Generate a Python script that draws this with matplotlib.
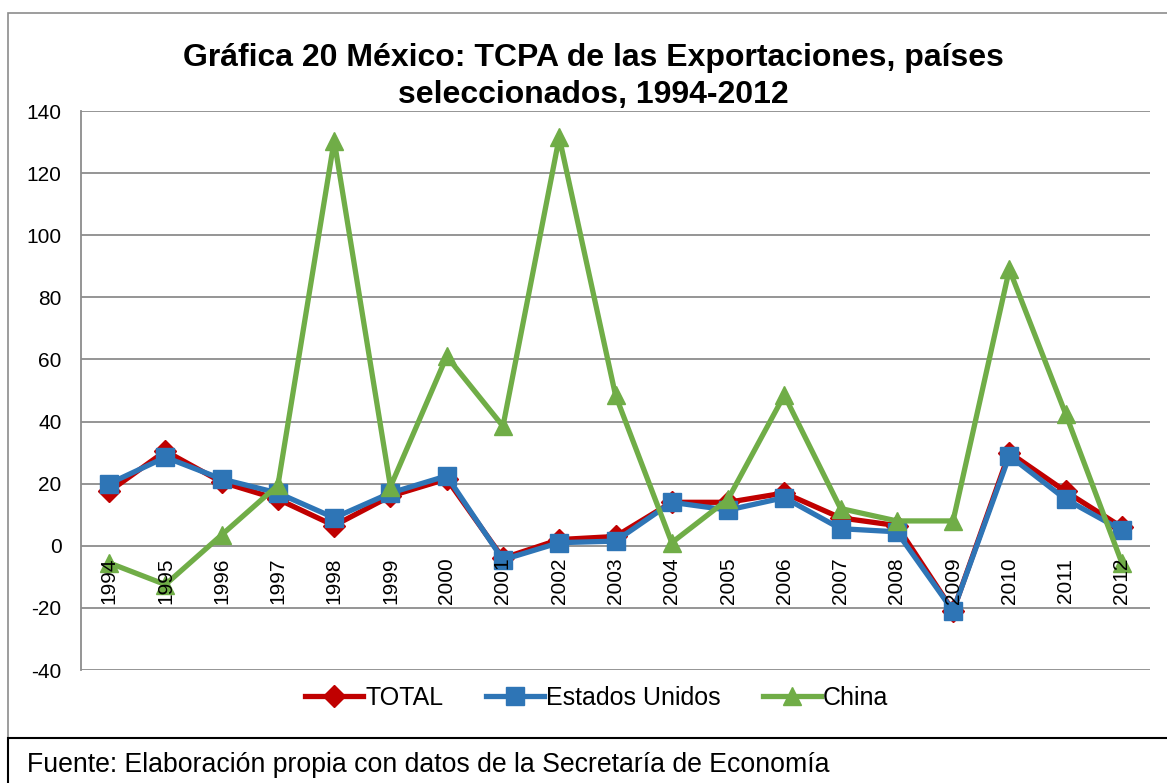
import matplotlib
matplotlib.use("Agg")
import matplotlib.pyplot as plt
from matplotlib.patches import Rectangle

plt.rcParams['font.family'] = ['Liberation Sans', 'DejaVu Sans']

# Datos (TCPA, %)
anios = ['1994', '1995', '1996', '1997', '1998', '1999', '2000', '2001', '2002', '2003',
         '2004', '2005', '2006', '2007', '2008', '2009', '2010', '2011', '2012']
total = [17.5, 30.5, 20.5, 15, 6.5, 16, 21.5, -4, 2, 3,
         14, 14, 17, 9, 6.5, -21, 30, 17.5, 6]
estados_unidos = [20, 28.5, 21.5, 17, 9, 17, 22.5, -4.5, 1, 1.5,
                  14, 11.5, 15.5, 5.5, 4.5, -21, 29, 15, 5]
china = [-5.5, -12.5, 3.5, 19.5, 130.5, 19, 61, 38.5, 131.5, 48.5,
         1, 15, 48.5, 12, 8, 8, 89, 42.5, -5.5]
yticks = [-40, -20, 0, 20, 40, 60, 80, 100, 120, 140]

W, H = 1167, 783
fig = plt.figure(figsize=(W / 100, H / 100), dpi=100)

# marcos exteriores
fig.patches.append(Rectangle((8 / W, 1 - 738 / H), 1.0, (738 - 13) / H, transform=fig.transFigure,
                             fill=False, edgecolor='#8c8c8c', linewidth=1.2))
fig.patches.append(Rectangle((8 / W, -0.05), 1.0, 0.05 + 1 - 738 / H, transform=fig.transFigure,
                             fill=False, edgecolor='black', linewidth=1.5))

ax = fig.add_axes([81 / W, 1 - 670 / H, (1150 - 81) / W, (670 - 111) / H])
x = range(len(anios))

ax.plot(x, total, color='#C00000', linewidth=3.8, marker='D', markersize=11, label='TOTAL', zorder=3)
ax.plot(x, estados_unidos, color='#2E75B6', linewidth=3.8, marker='s', markersize=13,
        label='Estados Unidos', zorder=4)
ax.plot(x, china, color='#70AD47', linewidth=3.8, marker='^', markersize=13, label='China', zorder=5)

ax.set_xlim(-0.5, len(anios) - 0.5)
ax.set_ylim(-40, 140)
ax.set_yticks(yticks)
ax.set_yticklabels([str(v) for v in yticks], fontsize=15)
ax.tick_params(axis='y', length=0, pad=14)
ax.set_xticks([])
ax.grid(axis='y', color='#8c8c8c', linewidth=1.3)
ax.set_axisbelow(True)
for s in ['top', 'right', 'bottom']:
    ax.spines[s].set_visible(False)
ax.spines['left'].set_color('#8c8c8c')
ax.spines['left'].set_linewidth(1.3)

# etiquetas de años junto al eje en 0
for i, a in enumerate(anios):
    ax.text(i, -3.8, a, rotation=90, ha='center', va='top', fontsize=15, zorder=6)

fig.text(593 / W, 1 - 76.5 / H, 'Gráfica 20 México: TCPA de las Exportaciones, países\nseleccionados, 1994-2012',
         ha='center', va='center', fontsize=23, fontweight='bold', linespacing=1.3)

fig.legend(loc='center', bbox_to_anchor=(597 / W, 1 - 698 / H), ncol=3, frameon=False,
           fontsize=18, handlelength=2.3, handletextpad=0.1, columnspacing=1.7)

fig.text(27 / W, 1 - 765 / H, 'Fuente: Elaboración propia con datos de la Secretaría de Economía',
         ha='left', va='center', fontsize=19.2)

fig.savefig('out.png', dpi=100)
